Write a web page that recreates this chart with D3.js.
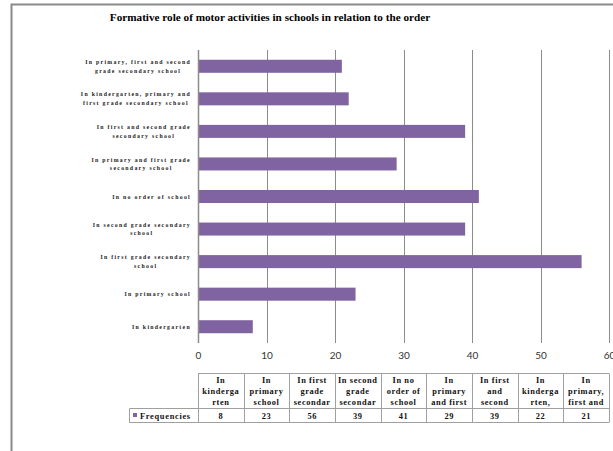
<!DOCTYPE html>
<html><head><meta charset="utf-8">
<script src="https://cdn.jsdelivr.net/npm/d3@7"></script>
<style>body{margin:0;background:#fff}svg{display:block}</style>
</head><body>
<svg id="c" width="613" height="451"></svg>
<script>
const title = "Formative role of motor activities in schools in relation to the order";
const categories = [
  "In kindergarten",
  "In primary school",
  "In first grade secondary school",
  "In second grade secondary school",
  "In no order of school",
  "In primary and first grade secondary school",
  "In first and second grade secondary school",
  "In kindergarten, primary and first grade secondary school",
  "In primary, first and second grade secondary school"
];
const axisLabelLines = [
  ["In kindergarten"],
  ["In primary school"],
  ["In first grade secondary", "school"],
  ["In second grade secondary", "school"],
  ["In no order of school"],
  ["In primary and first grade", "secondary school"],
  ["In first and second grade", "secondary school"],
  ["In kindergarten, primary and", "first grade secondary school"],
  ["In primary, first and second", "grade secondary school"]
];
const tableHeaderLines = [
  ["In", "kinderga", "rten"],
  ["In", "primary", "school"],
  ["In first", "grade", "secondar"],
  ["In second", "grade", "secondar"],
  ["In no", "order of", "school"],
  ["In", "primary", "and first"],
  ["In first", "and", "second"],
  ["In", "kinderga", "rten,"],
  ["In", "primary,", "first and"]
];
const seriesName = "Frequencies";
const frequencies = [8, 23, 56, 39, 41, 29, 39, 22, 21];
const xTicks = [0, 10, 20, 30, 40, 50, 60];

(function () {
const svg = d3.select("#c");
const purple = "#8064A2", grid = "#8c8c8c";

svg.append("path").attr("d", "M11.5,451 L11.5,4.5 L613,4.5")
  .attr("fill", "none").attr("stroke", "#8a8a8a").attr("stroke-width", 2);

svg.append("text").attr("x", 270).attr("y", 21).attr("text-anchor", "middle")
  .attr("font-family", "Liberation Serif").attr("font-weight", "bold").attr("font-size", 11.2)
  .text(title);

const pL = 198, pR = 609, pT = 50, pB = 343;
const x = d3.scaleLinear().domain([0, 60]).range([pL, pR]);
const y = d3.scaleBand().domain(d3.range(categories.length).reverse()).range([pT, pB]).paddingInner(0.6).paddingOuter(0.3);

svg.append("g").selectAll("line").data(xTicks.slice(1)).join("line")
  .attr("x1", d => Math.round(x(d)) + 0.5).attr("x2", d => Math.round(x(d)) + 0.5)
  .attr("y1", pT).attr("y2", pB).attr("stroke", grid).attr("stroke-width", 1);

svg.append("g").selectAll("rect").data(frequencies).join("rect")
  .attr("x", x(0)).attr("y", (d, i) => y(i)).attr("height", y.bandwidth())
  .attr("width", d => x(d) - x(0)).attr("fill", purple);

svg.append("line").attr("x1", pL + 0.5).attr("x2", pL + 0.5).attr("y1", pT).attr("y2", pB)
  .attr("stroke", grid).attr("stroke-width", 1.5);

const xAxis = svg.append("g").attr("transform", `translate(0,${pB})`)
  .call(d3.axisBottom(x).tickValues(xTicks).tickSize(0).tickPadding(9));
xAxis.select(".domain").remove();
xAxis.selectAll("text").attr("font-family", "Lato").attr("font-size", 10).attr("fill", "#333");

const lab = svg.append("g").attr("font-family", "Liberation Serif").attr("font-weight", "bold")
  .attr("font-size", 5.8).attr("letter-spacing", 1.3).attr("fill", "#222");
axisLabelLines.forEach((lines, i) => {
  const cy = y(i) + y.bandwidth() / 2;
  const g = lab.append("g");
  const n = lines.length;
  const texts = lines.map((l, k) => g.append("text").attr("y", cy + (k - (n - 1) / 2) * 8.8 + 2).text(l));
  const w = d3.max(texts, t => t.node().getComputedTextLength());
  const cx = 191 - w / 2;
  texts.forEach(t => t.attr("x", cx).attr("text-anchor", "middle"));
});

const tTop = 373.5, tMid = 408.5, tBot = 422.5, legLeft = 129.5;
const colW = (pR - pL) / categories.length;
const tb = svg.append("g");
const border = "#a0a0a0";
tb.append("line").attr("x1", pL).attr("x2", pR).attr("y1", tTop).attr("y2", tTop).attr("stroke", border);
tb.append("line").attr("x1", legLeft).attr("x2", pR).attr("y1", tMid).attr("y2", tMid).attr("stroke", border);
tb.append("line").attr("x1", legLeft).attr("x2", pR).attr("y1", tBot).attr("y2", tBot).attr("stroke", border);
tb.append("line").attr("x1", legLeft).attr("x2", legLeft).attr("y1", tMid).attr("y2", tBot).attr("stroke", border);
d3.range(categories.length + 1).forEach(k => {
  const xx = Math.round(pL + k * colW) + 0.5;
  tb.append("line").attr("x1", xx).attr("x2", xx).attr("y1", tTop).attr("y2", tBot).attr("stroke", border);
});
const tt = tb.append("g").attr("font-family", "Liberation Serif").attr("font-weight", "bold")
  .attr("font-size", 8.4).attr("letter-spacing", 0.6).attr("fill", "#111").attr("text-anchor", "middle");
tableHeaderLines.forEach((lines, k) => {
  const cx = pL + (k + 0.5) * colW;
  lines.forEach((l, j) => tt.append("text").attr("x", cx).attr("y", 383 + j * 10.8).text(l));
});
frequencies.forEach((v, k) => {
  tt.append("text").attr("x", pL + (k + 0.5) * colW).attr("y", 419).text(v);
});
tb.append("rect").attr("x", 133).attr("y", 413).attr("width", 4).attr("height", 4).attr("fill", purple);
tb.append("text").attr("x", 140).attr("y", 419).attr("font-family", "Liberation Serif").attr("font-weight", "bold")
  .attr("font-size", 8.4).attr("letter-spacing", 0.7).attr("fill", "#111").text(seriesName);
})();
</script>
</body></html>
